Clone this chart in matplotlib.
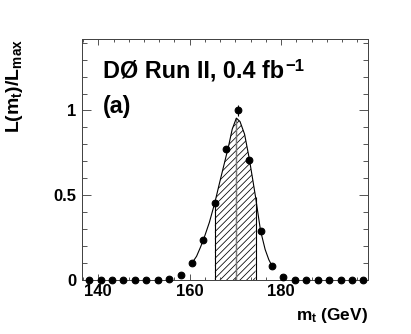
import numpy as np
import matplotlib
matplotlib.use("Agg")
import matplotlib.pyplot as plt
from matplotlib.ticker import MultipleLocator, FixedLocator

plt.rcParams['font.family'] = ['Liberation Sans', 'DejaVu Sans']
plt.rcParams['font.weight'] = 'bold'
plt.rcParams['mathtext.fontset'] = 'custom'
plt.rcParams['mathtext.rm'] = 'Liberation Sans:bold'
plt.rcParams['mathtext.it'] = 'Liberation Sans:bold'
plt.rcParams['mathtext.bf'] = 'Liberation Sans:bold'
plt.rcParams['hatch.linewidth'] = 0.7

# ---- data ----
mt_points = [138.0, 140.5, 143.0, 145.5, 148.0, 150.5, 153.0, 155.5, 158.0, 160.5,
             163.0, 165.5, 168.0, 170.5, 173.0, 175.5, 178.0, 180.5, 183.0, 185.5,
             188.0, 190.5, 193.0, 195.5, 198.0]
like_points = [0.0, 0.0, 0.0, 0.0, 0.0, 0.0, 0.0, 0.005, 0.03, 0.10,
               0.237, 0.457, 0.773, 1.0, 0.706, 0.29, 0.083, 0.02, 0.0, 0.0,
               0.0, 0.0, 0.0, 0.0, 0.0]
like_err = [0.0, 0.0, 0.0, 0.0, 0.0, 0.0, 0.0, 0.003, 0.008, 0.012,
            0.015, 0.015, 0.02, 0.035, 0.02, 0.015, 0.01, 0.006, 0.0, 0.0,
            0.0, 0.0, 0.0, 0.0, 0.0]

# fitted curve
fit_mt = [160.5, 161.5, 162.3, 163.0, 164.3, 165.5, 166.5, 167.5, 168.5, 169.3,
          170.2, 171.0, 172.0, 173.0, 173.8, 174.4, 175.0, 175.5, 176.5, 177.3, 178.0]
fit_like = [0.10, 0.14, 0.19, 0.237, 0.34, 0.457, 0.57, 0.68, 0.79, 0.89,
            0.955, 0.935, 0.86, 0.72, 0.59, 0.49, 0.38, 0.29, 0.18, 0.12, 0.083]

mt_center = 170.2
band_low = 165.5
band_high = 174.4

x_ticks = [140, 160, 180]
y_ticks = [0, 0.5, 1]
y_ticklabels = ['0', '0.5', '1']

# ---- figure ----
DPI = 80
fig = plt.figure(figsize=(411 / DPI, 334 / DPI), dpi=DPI)
ax = fig.add_axes([0.2002, 0.1617, 0.6952, 0.7206])

fit_mt_a = np.array(fit_mt)
fit_like_a = np.array(fit_like)
mask = (fit_mt_a >= band_low) & (fit_mt_a <= band_high)
ax.fill_between(fit_mt_a, 0, fit_like_a, where=mask, facecolor='none',
                edgecolor='black', hatch='////', linewidth=0)

# band edges and central line
i_lo = fit_mt.index(band_low)
i_hi = fit_mt.index(band_high)
i_c = fit_mt.index(mt_center)
ax.vlines([band_low, band_high], 0, [fit_like[i_lo], fit_like[i_hi]],
          colors='black', linewidth=1.0)
ax.vlines([mt_center], 0, [fit_like[i_c]], colors='#777777', linewidth=1.3)

ax.plot(fit_mt, fit_like, color='black', linewidth=1.0)

ax.errorbar(mt_points, like_points, yerr=like_err, fmt='o', color='black',
            markersize=6, elinewidth=1.0, capsize=0, clip_on=False, zorder=5)

ax.set_xlim(136.5, 199.0)
ax.set_ylim(0, 1.42)

ax.xaxis.set_major_locator(FixedLocator(x_ticks))
ax.xaxis.set_minor_locator(MultipleLocator(20 / 6))
ax.yaxis.set_major_locator(FixedLocator(y_ticks))
ax.set_yticklabels(y_ticklabels)
ax.yaxis.set_minor_locator(MultipleLocator(0.1))

ax.tick_params(axis='both', which='both', direction='in', top=True, right=True,
               colors='#444444', labelcolor='black', labelsize=15)
ax.tick_params(axis='x', which='major', length=5.5, width=0.8, pad=4)
ax.tick_params(axis='x', which='minor', length=3, width=0.8)
ax.tick_params(axis='y', which='major', length=8, width=0.8, pad=5)
ax.tick_params(axis='y', which='minor', length=4.5, width=0.8)
for lab in ax.get_xticklabels() + ax.get_yticklabels():
    lab.set_fontweight('bold')

for sp in ax.spines.values():
    sp.set_color('#444444')
    sp.set_linewidth(0.9)

ax.set_xlabel('m$_{\\mathrm{t}}$ (GeV)', fontsize=15.5, fontweight='bold', loc='right')
ax.xaxis.set_label_coords(1.0, -0.11)
ax.set_ylabel('L(m$_{\\mathrm{t}}$)/L$_{\\mathrm{max}}$', fontsize=17.5,
              fontweight='bold', loc='top')
ax.yaxis.set_label_coords(-0.2, 1.0)

t = ax.text(0.0725, 0.843, 'DØ Run II, 0.4 fb', transform=ax.transAxes,
            fontsize=21, fontweight='bold', ha='left', va='baseline')
ax.annotate('\u22121', xy=(1, 1), xycoords=t, xytext=(1.5, 0),
            textcoords='offset points', fontsize=15, fontweight='bold',
            ha='left', va='top')
ax.text(0.0725, 0.694, '(a)', transform=ax.transAxes,
        fontsize=21, fontweight='bold', ha='left', va='baseline')

fig.savefig('out.png', dpi=DPI)
